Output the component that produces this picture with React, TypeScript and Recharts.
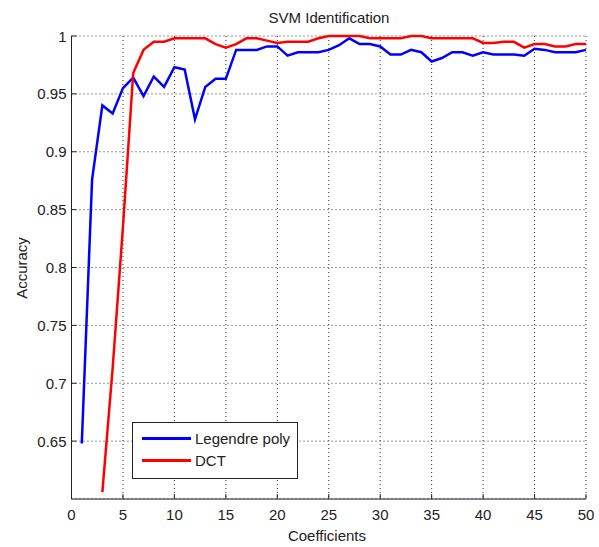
import { LineChart, Line, XAxis, YAxis, CartesianGrid, Legend } from "recharts"

const coefficients = [
  1, 2, 3, 4, 5, 6, 7, 8, 9, 10, 11, 12, 13, 14, 15, 16, 17, 18, 19, 20, 21, 22, 23, 24, 25,
  26, 27, 28, 29, 30, 31, 32, 33, 34, 35, 36, 37, 38, 39, 40, 41, 42, 43, 44, 45, 46, 47, 48, 49, 50,
]

const legendrePoly = [
  0.648, 0.876, 0.94, 0.933, 0.955, 0.964, 0.948, 0.965, 0.956, 0.973, 0.971, 0.928, 0.956, 0.963,
  0.963, 0.988, 0.988, 0.988, 0.991, 0.991, 0.983, 0.986, 0.986, 0.986, 0.988, 0.992, 0.998, 0.993,
  0.993, 0.991, 0.984, 0.984, 0.988, 0.986, 0.978, 0.981, 0.986, 0.986, 0.983, 0.986, 0.984, 0.984,
  0.984, 0.983, 0.989, 0.988, 0.986, 0.986, 0.986, 0.988,
]

const dct = [
  null, null, 0.606, 0.713, 0.835, 0.968, 0.988, 0.995, 0.995, 0.998, 0.998, 0.998, 0.998, 0.993,
  0.99, 0.993, 0.998, 0.998, 0.996, 0.994, 0.995, 0.995, 0.995, 0.998, 1.0, 1.0, 1.0, 1.0, 0.998,
  0.998, 0.998, 0.998, 1.0, 1.0, 0.998, 0.998, 0.998, 0.998, 0.998, 0.994, 0.994, 0.995, 0.995,
  0.99, 0.993, 0.993, 0.991, 0.991, 0.993, 0.993,
]

const xTicks = [0, 5, 10, 15, 20, 25, 30, 35, 40, 45, 50]
const yTicks = [0.65, 0.7, 0.75, 0.8, 0.85, 0.9, 0.95, 1]

const data = coefficients.map((c, i) => ({ c, legendre: legendrePoly[i], dct: dct[i] }))

const FONT = "'Liberation Sans', Arial, sans-serif"

const XTick = (props: any) => {
  const { x, y, payload } = props
  return (
    <g>
      <line x1={x} y1={y} x2={x} y2={y - 5} stroke="#222" />
      <text x={x} y={y + 21} textAnchor="middle" fontSize={15} fontFamily={FONT} fill="#222">
        {payload.value}
      </text>
    </g>
  )
}

const YTick = (props: any) => {
  const { x, y, payload } = props
  return (
    <g>
      <line x1={x} y1={y} x2={x + 5} y2={y} stroke="#222" />
      <text x={x - 5} y={y + 5.5} textAnchor="end" fontSize={15} fontFamily={FONT} fill="#222">
        {payload.value}
      </text>
    </g>
  )
}

const LegendBox = () => (
  <div
    style={{
      width: 166,
      height: 57,
      boxSizing: "border-box",
      border: "1px solid #222",
      background: "#fff",
      fontFamily: FONT,
      fontSize: 15,
      color: "#222",
      position: "relative",
    }}
  >
    {[
      { name: "Legendre poly", color: "#0000ff", top: 7 },
      { name: "DCT", color: "#ff0000", top: 29 },
    ].map((e) => (
      <div key={e.name} style={{ position: "absolute", left: 9, top: e.top, display: "flex", alignItems: "center" }}>
        <div style={{ width: 49, height: 3, background: e.color, marginRight: 4 }} />
        <span>{e.name}</span>
      </div>
    ))}
  </div>
)

export default function App() {
  return (
    <div style={{ position: "absolute", left: 0, top: 0, background: "#fff" }}>
      <LineChart width={599} height={547} data={data} margin={{ top: 36, right: 13, bottom: 18, left: 0 }}>
        <CartesianGrid stroke="#333" strokeDasharray="1 3" />
        <XAxis
          dataKey="c"
          type="number"
          domain={[0, 50]}
          ticks={xTicks}
          height={30}
          tickSize={0}
          tickMargin={0}
          tick={<XTick />}
          axisLine={{ stroke: "#222" }}
          tickLine={false}
          interval={0}
        />
        <YAxis
          type="number"
          domain={[0.6, 1]}
          ticks={yTicks}
          width={71.5}
          tickSize={0}
          tickMargin={0}
          tick={<YTick />}
          axisLine={{ stroke: "#222" }}
          tickLine={false}
          interval={0}
        />
        <Line
          dataKey="legendre"
          type="linear"
          stroke="#0000ff"
          strokeWidth={2.5}
          dot={false}
          isAnimationActive={false}
        />
        <Line
          dataKey="dct"
          type="linear"
          stroke="#ff0000"
          strokeWidth={2.5}
          dot={false}
          isAnimationActive={false}
        />
        <Legend
          layout="vertical"
          verticalAlign="middle"
          align="center"
          content={<LegendBox />}
          wrapperStyle={{ left: 132, top: 422, width: 166, height: 57 }}
        />
        <text x={329} y={23} textAnchor="middle" fontSize={15} fontFamily={FONT} fill="#222">
          SVM Identification
        </text>
        <text x={327} y={541} textAnchor="middle" fontSize={15} fontFamily={FONT} fill="#222">
          Coefficients
        </text>
        <text
          x={27}
          y={268}
          textAnchor="middle"
          fontSize={15}
          fontFamily={FONT}
          fill="#222"
          transform="rotate(-90 27 268)"
        >
          Accuracy
        </text>
      </LineChart>
    </div>
  )
}
